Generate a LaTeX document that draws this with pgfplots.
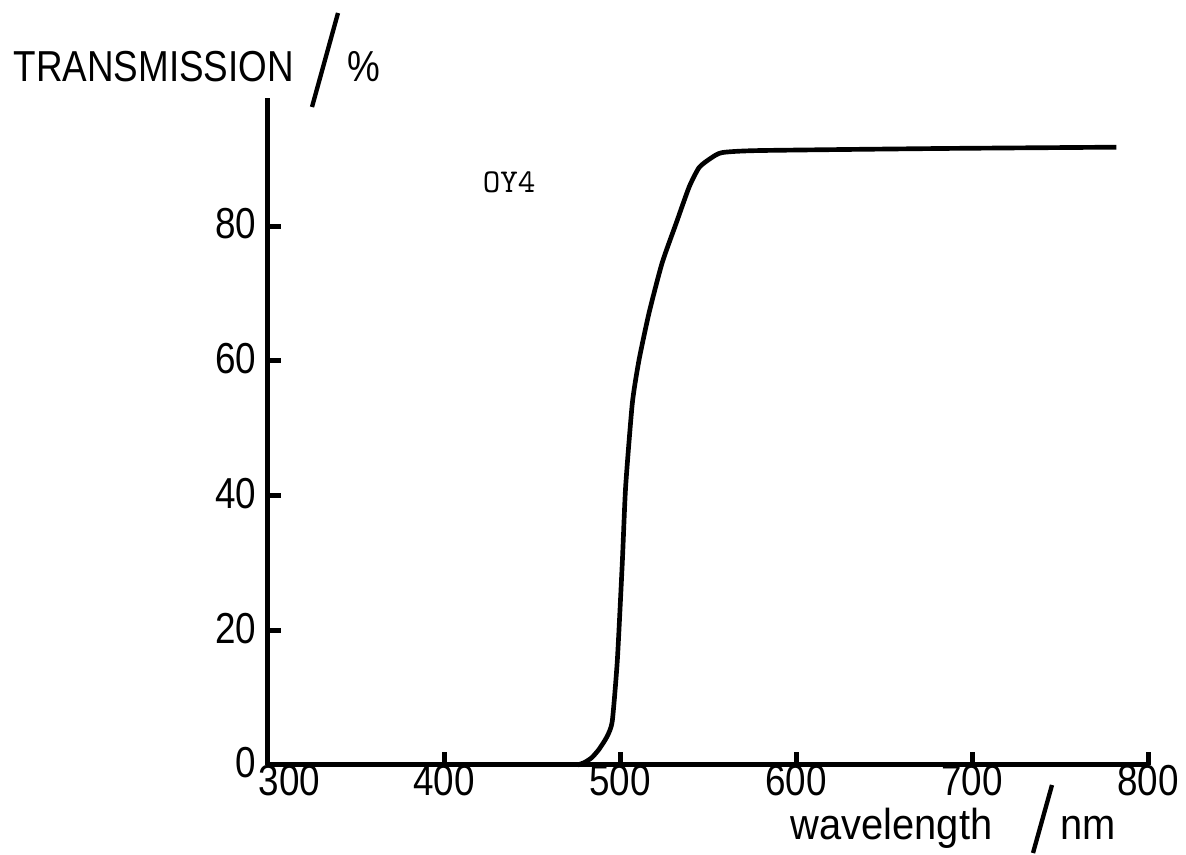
\documentclass[border=0pt]{standalone}
\usepackage{fontspec}
\setmainfont{Liberation Sans}[FakeStretch=0.85]
\newfontfamily\wfont{Liberation Sans}[FakeStretch=0.92]
\usepackage{pgfplots}
\pgfplotsset{compat=1.18}
\begin{document}
\begin{tikzpicture}
\begin{axis}[
  at={(0pt,0pt)}, anchor=south west,
  scale only axis,
  width=264pt, height=200.1pt,
  xmin=300, xmax=800, ymin=0, ymax=99,
  axis x line=bottom, axis y line=left,
  axis line style={line width=1.5pt, -},
  xtick={300,400,500,600,700,800},
  xticklabels={{\hspace*{13pt}300},400,500,600,700,800},
  ytick={0,20,40,60,80},
  yticklabels={0,20,40,60,80},
  tick align=inside,
  major tick length=4pt,
  every tick/.style={line width=1.5pt, black},
  tick label style={font=\fontsize{13}{13}\selectfont},
  xticklabel style={yshift=3.5pt},
  yticklabel style={yshift=0.6pt},
  /pgf/number format/assume math mode=true,
  clip=false,
]
\addplot[line width=1.4pt, black, smooth, tension=0.35] coordinates {
(476,0) (480,0.4) (484,1.1) (488,2.3) (492.6,4.2) (495.6,6.5)
(498.5,15.6) (501.3,30.0) (503.2,41.3) (507,53.7) (510.8,60.1)
(516.5,67.1) (523.9,74.5) (531.9,80.4) (539.3,85.8) (545,88.7)
(551.8,90.1) (558.1,90.9) (579.2,91.2) (680,91.5) (782,91.7)
};
\node[font=\ttfamily\fontsize{10}{10}\selectfont] at (axis cs:437,86.5) {OY4};
\end{axis}
% axis labels
\node[anchor=base west, inner sep=0pt, font=\fontsize{13}{13}\selectfont] at (-76.5pt,204.9pt) {TRANSMISSION};
\draw[line width=1.3pt] (21pt,225.6pt) -- (13.2pt,197.4pt);
\node[anchor=base west, inner sep=0pt, font=\fontsize{13}{13}\selectfont] at (23.7pt,204.9pt) {\%};
\node[anchor=base west, inner sep=0pt, font=\wfont\fontsize{13}{13}\selectfont] at (156.6pt,-22.5pt) {wavelength};
\draw[line width=1.3pt] (235.2pt,-6pt) -- (229.5pt,-26.4pt);
\node[anchor=base west, inner sep=0pt, font=\wfont\fontsize{13}{13}\selectfont] at (237.6pt,-22.5pt) {nm};
\pgfresetboundingbox
\path (-80.4pt,-27pt) rectangle (275.4pt,229.5pt);
\end{tikzpicture}
\end{document}
